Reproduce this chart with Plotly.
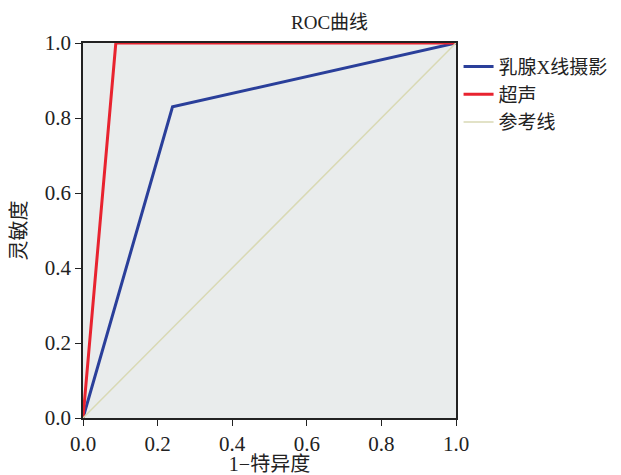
import plotly.graph_objects as go

mammo_x = [0.0, 0.24, 1.0]
mammo_y = [0.0, 0.83, 1.0]
us_x = [0.0, 0.088, 1.0]
us_y = [0.0, 1.0, 1.0]
ref_x = [0.0, 1.0]
ref_y = [0.0, 1.0]
ticks = [0.0, 0.2, 0.4, 0.6, 0.8, 1.0]
tick_text = ["0.0", "0.2", "0.4", "0.6", "0.8", "1.0"]

font = "Liberation Serif, Noto Sans CJK SC, serif"

fig = go.Figure()
fig.add_trace(go.Scatter(x=mammo_x, y=mammo_y, mode="lines", name="乳腺X线摄影",
                         line=dict(color="#2a3f9a", width=3)))
fig.add_trace(go.Scatter(x=us_x, y=us_y, mode="lines", name="超声",
                         line=dict(color="#e8232f", width=3)))
fig.add_trace(go.Scatter(x=ref_x, y=ref_y, mode="lines", name="参考线",
                         line=dict(color="#d9d9b4", width=1.5)))

axis_common = dict(range=[0, 1], tickvals=ticks, ticktext=tick_text, ticks="outside",
                   ticklen=6, tickcolor="#222", showgrid=False, zeroline=False,
                   showline=True, linecolor="#222", linewidth=1.5, mirror=True,
                   automargin=False,
                   tickfont=dict(family=font, size=21, color="#222"))

# page body has an 8px default margin, so the figure is sized 8px smaller
fig.update_layout(
    width=613, height=467,
    margin=dict(l=75, r=165, t=35, b=57),
    paper_bgcolor="white", plot_bgcolor="#e9ecec",
    font=dict(family=font, color="#222"),
    showlegend=True,
    legend=dict(xref="container", yref="container", x=0.735, y=0.915,
                xanchor="left", yanchor="top",
                font=dict(family=font, size=19, color="#222"),
                bgcolor="rgba(0,0,0,0)", tracegroupgap=0, itemwidth=30),
    xaxis=dict(**axis_common, title=dict(text="1−特异度", font=dict(family=font, size=20), standoff=4)),
    yaxis=dict(**axis_common, title=dict(text="灵敏度", font=dict(family=font, size=20), standoff=14)),
    annotations=[dict(text="ROC曲线", x=0.66, y=1.0, xref="paper", yref="paper",
                      xanchor="center", yanchor="bottom", showarrow=False, yshift=8,
                      font=dict(family=font, size=19, color="#222"))],
)

fig.write_html("out.html")
